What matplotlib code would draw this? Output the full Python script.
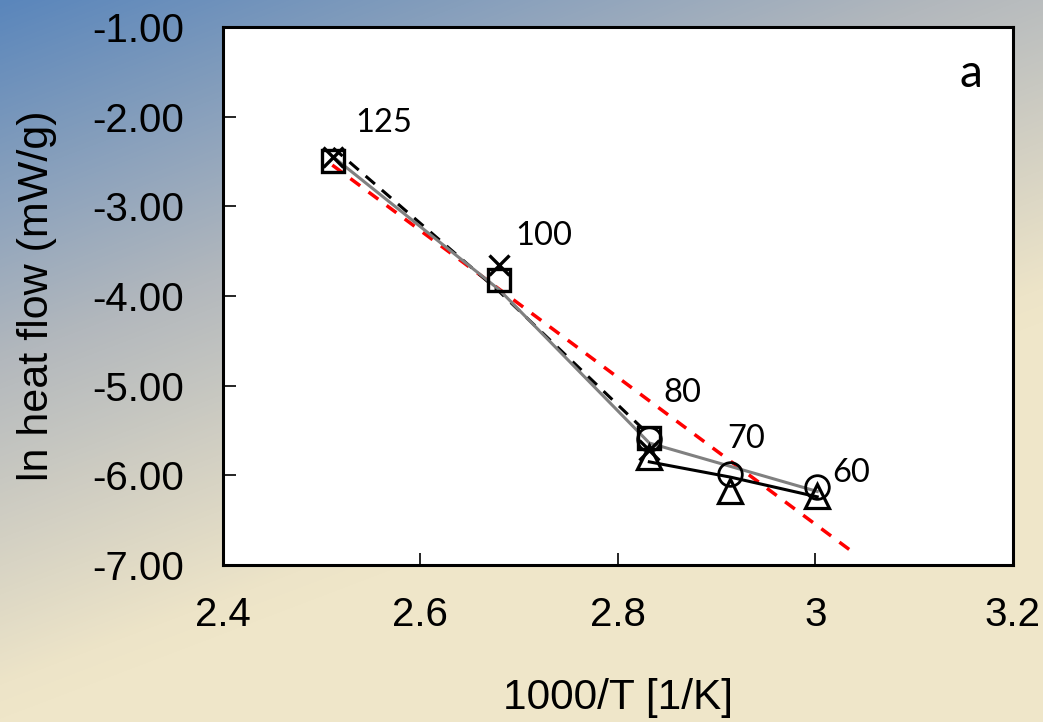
import numpy as np
import matplotlib
matplotlib.use("Agg")
import matplotlib.pyplot as plt
from matplotlib.colors import LinearSegmentedColormap

# temperatures (deg C) and 1000/T
temps = ["125", "100", "80", "70", "60"]
inv_t = [2.512, 2.680, 2.832, 2.914, 3.002]

# marker series
cross_y = [-2.45, -3.66, -5.72]
square_y = [-2.50, -3.82, -5.58]
circle_y = [-5.60, -5.98, -6.13]
tri_y = [-5.80, -6.17, -6.23]

# line series
dash_y = [-2.35, -3.95, -5.55]
gray_y = [-2.45, -3.93, -5.64, -5.90, -6.18]
black_y = [-5.85, -6.02, -6.24]
fit_x = [2.511, 3.036]
fit_y = [-2.54, -6.84]

label_x = [2.534, 2.696, 2.846, 2.911, 3.017]
label_y = [-2.17, -3.43, -5.18, -5.70, -6.07]

fig = plt.figure(figsize=(10.43, 7.22), dpi=100)

# background gradient
bg = fig.add_axes([0, 0, 1, 1], zorder=-10)
W, H = 1043, 722
u = np.linspace(0, 1, W)[None, :]
v = np.linspace(0, 1, H)[:, None]
s = np.clip(0.55 * u + v, 0, 1)
cmap = LinearSegmentedColormap.from_list(
    "bg", [(0, "#5a86bb"), (0.5, "#b3b8bd"), (0.95, "#ede4c8"), (1, "#efe6c9")])
bg.imshow(cmap(s), aspect="auto", extent=[0, 1, 0, 1], origin="upper")
bg.axis("off")

ax = fig.add_axes([0.2135, 0.2175, 0.7575, 0.7451])
ax.set_facecolor("white")

ax.plot(fit_x, fit_y, color="red", lw=2.5, ls=(0, (3.5, 3)), zorder=2)
ax.plot(inv_t[:3], dash_y, color="black", lw=2.2, ls=(0, (4, 3)), zorder=3)
ax.plot(inv_t, gray_y, color="#808080", lw=2.2, zorder=4)
ax.plot(inv_t[2:], black_y, color="black", lw=2.2, zorder=4)

ax.plot(inv_t[:3], square_y, ls="none", marker="s", ms=16, mfc="none",
        mec="black", mew=2.4, zorder=5)
ax.plot(inv_t[:3], cross_y, ls="none", marker="x", ms=15, mec="black",
        mew=2.4, zorder=5)
ax.plot(inv_t[2:], circle_y, ls="none", marker="o", ms=17, mfc="none",
        mec="black", mew=2.0, zorder=5)
ax.plot(inv_t[2:], tri_y, ls="none", marker="^", ms=17, mfc="none",
        mec="black", mew=2.3, zorder=5)

for t, lx, ly in zip(temps, label_x, label_y):
    ax.text(lx, ly, t, fontsize=23.5, family="Lato", ha="left", va="baseline")
ax.text(3.146, -1.67, "a", fontsize=33, family="Lato", ha="left", va="baseline")

ax.set_xlim(2.4, 3.2)
ax.set_ylim(-7, -1)
ax.set_xticks([2.4, 2.6, 2.8, 3.0, 3.2])
ax.set_xticklabels(["2.4", "2.6", "2.8", "3", "3.2"])
ax.set_yticks(np.arange(-7, -0.5, 1.0))
ax.yaxis.set_major_formatter(matplotlib.ticker.FormatStrFormatter("%.2f"))
ax.tick_params(direction="in", length=9, width=1.2, labelsize=29)
ax.tick_params(axis="x", pad=22)
ax.tick_params(axis="y", pad=28)
for lab in ax.get_xticklabels() + ax.get_yticklabels():
    lab.set_family("Liberation Sans")
for sp in ax.spines.values():
    sp.set_linewidth(2.2)

ax.set_xlabel("1000/T [1/K]", fontsize=30.5, family="Liberation Sans", labelpad=32)
ax.set_ylabel("ln heat flow (mW/g)", fontsize=31, family="Liberation Sans", labelpad=25)

fig.savefig("out.png", dpi=100)
